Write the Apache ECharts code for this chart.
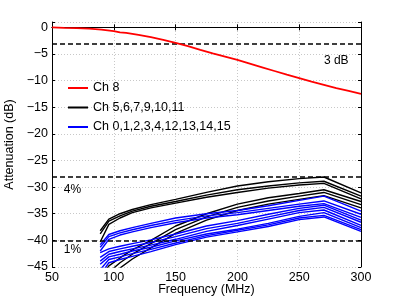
<!DOCTYPE html>
<html>
<head>
<meta charset="utf-8">
<script src="https://cdn.jsdelivr.net/npm/echarts@6/dist/echarts.min.js"></script>
<style>
html,body{margin:0;padding:0;background:#fff;}
#c{width:399px;height:300px;}
</style>
</head>
<body>
<div id="c"></div>
<script>
// ---- Data ----
const freqRed = [50,60,70,80,90,100,105,110,120,130,140,150,160,170,180,190,200,210,220,230,240,250,260,270,280,290,300];
const ch8 = [0,-0.1,-0.15,-0.25,-0.45,-0.7,-0.95,-1.05,-1.4,-1.85,-2.35,-2.9,-3.55,-4.25,-4.9,-5.5,-6.1,-6.8,-7.5,-8.2,-8.9,-9.55,-10.2,-10.8,-11.4,-11.95,-12.5];

const freqCh = [89, 96, 105, 115, 130, 150, 175, 200, 225, 250, 270, 300];
// black: Ch 5,6,7,9,10,11
const blackA = [-38.2,-36.0,-35.0,-34.2,-33.3,-32.3,-31.0,-29.8,-29.0,-28.4,-28.1,-31.1];
const blackB = [-38.8,-36.4,-35.4,-34.5,-33.6,-32.7,-31.5,-30.5,-29.8,-29.2,-28.9,-31.7];
const blackC = [-40.3,-37.0,-35.8,-34.8,-33.9,-33.0,-31.9,-31.0,-30.2,-29.6,-29.3,-32.2];
const blackD = [-47.0,-44.8,-43.3,-41.8,-40.0,-37.3,-35.0,-33.2,-32.0,-31.2,-30.5,-32.7];
const blackE = [-48.5,-46.0,-44.2,-42.6,-40.6,-38.0,-35.6,-33.8,-32.6,-31.7,-31.0,-33.3];
const blackF = [-50.0,-47.5,-45.2,-43.5,-41.4,-38.7,-36.2,-34.4,-33.2,-32.3,-31.6,-33.9];
// blue: Ch 0,1,2,3,4,12,13,14,15
const blueA = [-40.8,-38.9,-38.2,-37.6,-36.8,-35.8,-35.0,-34.4,-33.5,-32.5,-31.7,-34.5];
const blueB = [-41.3,-39.3,-38.6,-38.0,-37.2,-36.3,-35.4,-34.8,-34.0,-33.2,-32.6,-35.1];
const blueC = [-42.0,-39.8,-39.0,-38.4,-37.6,-36.7,-35.8,-35.2,-34.4,-33.6,-33.1,-35.7];
const blueD = [-42.3,-41.6,-41.1,-40.6,-39.9,-38.8,-37.3,-36.3,-35.1,-34.0,-33.4,-36.2];
const blueE = [-43.2,-42.1,-41.6,-41.1,-40.4,-39.3,-37.8,-36.8,-35.6,-34.4,-33.8,-36.6];
const blueF = [-43.9,-42.6,-42.1,-41.6,-40.9,-39.8,-38.3,-37.2,-36.0,-34.8,-34.3,-37.2];
const blueG = [-44.5,-43.1,-42.6,-42.0,-41.3,-40.1,-38.8,-37.9,-36.8,-35.5,-34.8,-37.6];
const blueH = [-45.5,-43.6,-43.1,-42.5,-41.7,-40.5,-39.1,-38.1,-37.1,-35.8,-35.3,-38.0];
const blueI = [-46.5,-44.2,-43.6,-43.0,-42.1,-40.8,-39.4,-38.4,-37.4,-36.1,-35.6,-38.3];

const thresholds = [-3, -28, -40];
const notes = [
  {text: '3 dB', f: 270, db: -6.3},
  {text: '4%', f: 59.5, db: -30.5},
  {text: '1%', f: 59.5, db: -41.8}
];
const legendNames = ['Ch 8', 'Ch 5,6,7,9,10,11', 'Ch 0,1,2,3,4,12,13,14,15'];
const blackSets = [blackA, blackB, blackC, blackD, blackE, blackF];
const blueSets = [blueA, blueB, blueC, blueD, blueE, blueF, blueG, blueH, blueI];

// ---- Chart ----
const FONT = 'Liberation Sans, Arial, Helvetica, sans-serif';
const chart = echarts.init(document.getElementById('c'), null, {renderer: 'canvas'});
const zip = (xs, ys) => xs.map((x, i) => [x, ys[i]]);

const series = [];
series.push({
  name: legendNames[0], type: 'line', data: zip(freqRed, ch8),
  symbol: 'none', clip: true, z: 5,
  lineStyle: {color: '#ff0000', width: 1.8}, itemStyle: {color: '#ff0000'},
  markLine: {
    silent: true, symbol: 'none', label: {show: false},
    lineStyle: {color: '#000', type: [5, 3], width: 1.5},
    data: thresholds.map(v => ({yAxis: v}))
  }
});
blackSets.forEach(arr => series.push({
  name: legendNames[1], type: 'line', data: zip(freqCh, arr),
  symbol: 'none', clip: true,
  lineStyle: {color: '#000000', width: 1.4}, itemStyle: {color: '#000000'}
}));
blueSets.forEach(arr => series.push({
  name: legendNames[2], type: 'line', data: zip(freqCh, arr),
  symbol: 'none', clip: true,
  lineStyle: {color: '#0000ff', width: 1.4}, itemStyle: {color: '#0000ff'}
}));

const axisCommon = {
  axisLine: {show: true, lineStyle: {color: '#000', width: 1}},
  axisTick: {show: true, inside: true, length: 3, lineStyle: {color: '#000'}}
};

chart.setOption({
  animation: false,
  backgroundColor: '#fff',
  textStyle: {fontFamily: FONT},
  grid: {left: 52, right: 38, top: 22, bottom: 33, containLabel: false, outerBoundsMode: 'none'},
  legend: {
    data: legendNames, orient: 'vertical', left: 63, top: 76.5,
    icon: 'rect', itemWidth: 20, itemHeight: 2, itemGap: 6.5,
    textStyle: {fontFamily: FONT, fontSize: 12.5, color: '#000'},
    selectedMode: false
  },
  xAxis: [
    Object.assign({
      type: 'value', min: 50, max: 300, interval: 50, position: 'bottom',
      name: 'Frequency (MHz)', nameLocation: 'middle', nameGap: 16, nameMoveOverlap: false,
      nameTextStyle: {fontFamily: FONT, fontSize: 12.5, color: '#000'},
      axisLabel: {fontFamily: FONT, fontSize: 12.5, color: '#000', margin: 4},
      splitLine: {show: true, lineStyle: {color: '#c8c8c8', type: [1, 2], width: 1}}
    }, axisCommon),
    Object.assign({
      type: 'value', min: 50, max: 300, interval: 50, position: 'top',
      axisLabel: {show: false}, splitLine: {show: false}
    }, axisCommon)
  ],
  yAxis: [
    Object.assign({
      type: 'value', min: -45, max: 1, interval: 5, position: 'left',
      name: 'Attenuation (dB)', nameLocation: 'middle', nameGap: 34,
      nameTextStyle: {fontFamily: FONT, fontSize: 12.5, color: '#000'},
      axisLabel: {fontFamily: FONT, fontSize: 12.5, color: '#000', margin: 4,
        formatter: v => (v % 5 === 0 ? String(v).replace('-', '\u2212') : '')},
      splitLine: {show: true, lineStyle: {color: '#c8c8c8', type: [1, 2], width: 1}}
    }, axisCommon),
    Object.assign({
      type: 'value', min: -45, max: 1, interval: 5, position: 'right',
      axisLabel: {show: false}, splitLine: {show: false}
    }, axisCommon)
  ],
  series: series
});

const graphics = notes.map(n => {
  const p = chart.convertToPixel({xAxisIndex: 0, yAxisIndex: 0}, [n.f, n.db]);
  return {
    type: 'text', x: p[0], y: p[1], z: 100,
    style: {text: n.text, fill: '#000', font: '12px ' + FONT, textVerticalAlign: 'middle', verticalAlign: 'middle'}
  };
});
chart.setOption({graphic: graphics});
</script>
</body>
</html>
